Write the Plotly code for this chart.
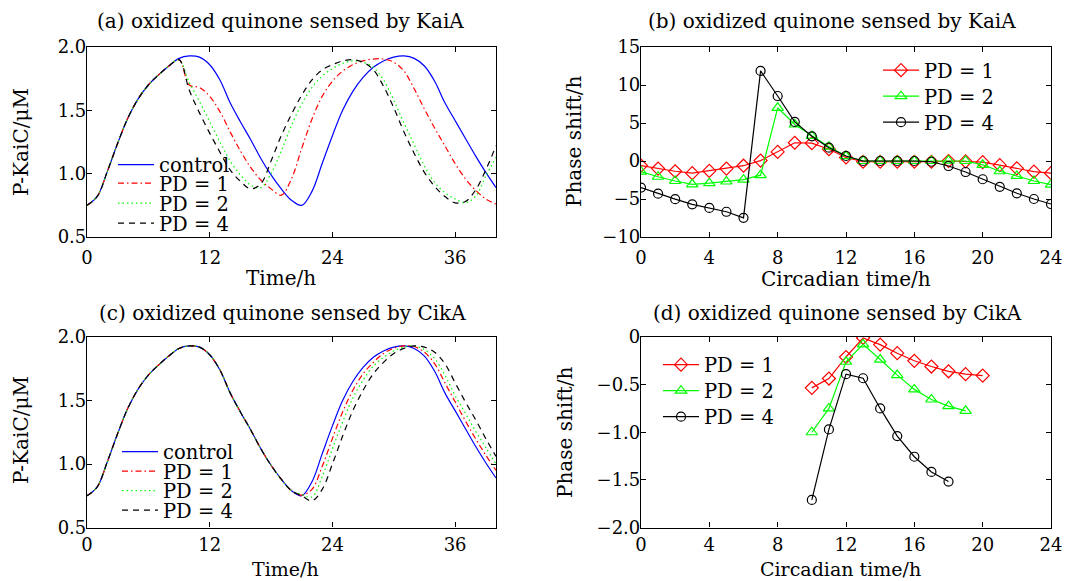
import plotly.graph_objects as go

# The page body adds an 8 px margin, so the figure is 8 px smaller and
# all pixel positions below are given in window coordinates.
WIN_W, WIN_H = 1078, 581
OFF = 8
W, H = WIN_W - OFF, WIN_H - OFF
FONT = "DejaVu Serif"

# ---------------- data ----------------
time_h = list(range(0, 41))

control = [0.75, 0.82, 1.02, 1.24, 1.44, 1.59, 1.70, 1.78, 1.85, 1.91,
           1.93, 1.92, 1.86, 1.74, 1.56, 1.41, 1.27, 1.12, 0.99, 0.88,
           0.79, 0.75, 0.86, 1.08, 1.30, 1.50, 1.65, 1.76, 1.84, 1.89,
           1.92, 1.93, 1.91, 1.85, 1.73, 1.56, 1.42, 1.28, 1.14, 1.01, 0.89]

# panel (a): oxidized quinone sensed by KaiA
a_pd1 = [0.75, 0.82, 1.02, 1.24, 1.44, 1.59, 1.70, 1.78, 1.85, 1.90,
         1.70, 1.68, 1.61, 1.49, 1.33, 1.18, 1.05, 0.95, 0.88, 0.83,
         0.96, 1.20, 1.43, 1.61, 1.73, 1.81, 1.86, 1.89, 1.905, 1.905,
         1.88, 1.81, 1.67, 1.51, 1.36, 1.22, 1.08, 0.96, 0.87, 0.80, 0.76]
a_pd2 = [0.75, 0.82, 1.02, 1.24, 1.44, 1.59, 1.70, 1.78, 1.85, 1.90,
         1.72, 1.57, 1.41, 1.25, 1.10, 0.99, 0.91, 0.89, 1.00, 1.18,
         1.38, 1.55, 1.68, 1.77, 1.83, 1.87, 1.89, 1.88, 1.84, 1.74,
         1.58, 1.40, 1.23, 1.06, 0.93, 0.85, 0.80, 0.77, 0.82, 0.98, 1.13]
a_pd4 = [0.75, 0.82, 1.02, 1.24, 1.44, 1.59, 1.70, 1.78, 1.85, 1.90,
         1.66, 1.48, 1.32, 1.17, 1.03, 0.94, 0.88, 0.92, 1.10, 1.30,
         1.47, 1.62, 1.74, 1.82, 1.86, 1.89, 1.90, 1.88, 1.82, 1.69,
         1.52, 1.33, 1.16, 1.01, 0.90, 0.82, 0.77, 0.78, 0.87, 1.03, 1.22]

# panel (c): oxidized quinone sensed by CikA
c_pd1 = [0.75, 0.82, 1.02, 1.24, 1.44, 1.59, 1.70, 1.78, 1.85, 1.91,
         1.93, 1.92, 1.86, 1.74, 1.56, 1.41, 1.27, 1.12, 0.99, 0.88,
         0.79, 0.755, 0.80, 0.98, 1.20, 1.41, 1.58, 1.71, 1.80, 1.87,
         1.91, 1.93, 1.925, 1.88, 1.79, 1.64, 1.49, 1.34, 1.20, 1.07, 0.95]
c_pd2 = [0.75, 0.82, 1.02, 1.24, 1.44, 1.59, 1.70, 1.78, 1.85, 1.91,
         1.93, 1.92, 1.86, 1.74, 1.56, 1.41, 1.27, 1.12, 0.99, 0.88,
         0.79, 0.76, 0.74, 0.90, 1.12, 1.33, 1.52, 1.66, 1.77, 1.84,
         1.89, 1.92, 1.93, 1.90, 1.83, 1.70, 1.54, 1.40, 1.26, 1.13, 1.00]
c_pd4 = [0.75, 0.82, 1.02, 1.24, 1.44, 1.59, 1.70, 1.78, 1.85, 1.91,
         1.93, 1.92, 1.86, 1.74, 1.56, 1.41, 1.27, 1.12, 0.99, 0.88,
         0.79, 0.75, 0.71, 0.80, 1.00, 1.22, 1.42, 1.58, 1.71, 1.80,
         1.87, 1.91, 1.93, 1.92, 1.88, 1.79, 1.64, 1.49, 1.35, 1.20, 1.06]

# panel (b): phase shift, KaiA
ct_b = list(range(0, 25))
b_pd1 = [-0.6, -1.0, -1.35, -1.6, -1.3, -1.0, -0.62, 0.05, 1.2, 2.4,
         2.35, 1.55, 0.47, -0.1, -0.1, -0.1, -0.1, -0.1, 0.0, -0.05,
         -0.15, -0.55, -0.96, -1.4, -1.6]
b_pd2 = [-1.4, -2.07, -2.63, -3.07, -2.92, -2.7, -2.45, -1.86, 7.0, 4.8,
         3.3, 1.88, 0.65, 0.0, 0.0, 0.0, 0.0, 0.0, 0.05, 0.0,
         -0.5, -1.35, -1.97, -2.63, -3.1]
b_pd4 = [-3.5, -4.3, -5.02, -5.7, -6.17, -6.68, -7.48, 11.85, 8.55, 5.14,
         3.25, 1.75, 0.66, 0.0, 0.0, 0.0, 0.0, -0.1, -0.66, -1.45,
         -2.4, -3.4, -4.25, -5.0, -5.66]

# panel (d): phase shift, CikA
ct_d1 = list(range(10, 21))
d_pd1 = [-0.534, -0.436, -0.21, -0.01, -0.08, -0.17, -0.25, -0.31, -0.36, -0.39, -0.405]
ct_d2 = list(range(10, 20))
d_pd2 = [-1.0, -0.75, -0.26, -0.077, -0.237, -0.40, -0.55, -0.656, -0.726, -0.775]
ct_d4 = list(range(10, 19))
d_pd4 = [-1.71, -0.97, -0.39, -0.433, -0.75, -1.04, -1.257, -1.417, -1.518]

time_ticks = [0, 12, 24, 36]
ct_ticks = [0, 4, 8, 12, 16, 20, 24]
pk_ticks = [0.5, 1.0, 1.5, 2.0]
pk_ticktext = ["0.5", "1.0", "1.5", "2.0"]
b_ticks = [-10, -5, 0, 5, 10, 15]
b_ticktext = ["\u221210", "\u22125", "0", "5", "10", "15"]
d_ticks = [-2.0, -1.5, -1.0, -0.5, 0]
d_ticktext = ["\u22122.0", "\u22121.5", "\u22121.0", "\u22120.5", "0"]

series_names = ["control", "PD = 1", "PD = 2", "PD = 4"]

# ---------------- styles ----------------
BLUE, RED, GREEN, BLACK = "#0000ff", "#ff0000", "#00ff00", "#000000"
dash_styles = ["solid", "6px,3px,1.5px,3px", "1.5px,3px", "6px,5px"]
colors = [BLUE, RED, GREEN, BLACK]


def px_x(p):
    return (p - OFF) / W


def px_y(p):
    return 1 - (p - OFF) / H


fig = go.Figure()

legend_defs = {}
leg_counter = [1]


def new_legend(x_px, y_px):
    leg_counter[0] += 1
    key = "legend%d" % leg_counter[0]
    legend_defs[key] = dict(
        x=px_x(x_px), y=px_y(y_px), xanchor="left", yanchor="middle",
        bgcolor="rgba(0,0,0,0)", borderwidth=0,
        font=dict(family=FONT, size=19.5, color="black"),
        itemwidth=36, tracegroupgap=0,
    )
    return key


# panel (a)
a_rows = [165, 183.5, 203.5, 223.5]
for i, ys in enumerate([control, a_pd1, a_pd2, a_pd4]):
    fig.add_trace(go.Scatter(
        x=time_h, y=ys, mode="lines", name=series_names[i],
        line=dict(color=colors[i], width=1.2, dash=dash_styles[i], shape="spline"),
        xaxis="x", yaxis="y", legend=new_legend(113, a_rows[i]),
    ))

# panel (b)
sym = ["diamond-open", "triangle-up-open", "circle-open"]
msz = [10, 10, 9]
b_rows = [70.5, 96.5, 122.5]
for i, ys in enumerate([b_pd1, b_pd2, b_pd4]):
    fig.add_trace(go.Scatter(
        x=ct_b, y=ys, mode="lines+markers", name=series_names[i + 1],
        line=dict(color=colors[i + 1], width=1.2),
        marker=dict(symbol=sym[i], size=msz[i], color=colors[i + 1],
                    line=dict(width=1.2, color=colors[i + 1])),
        xaxis="x2", yaxis="y2", legend=new_legend(878, b_rows[i]),
    ))

# panel (c)
c_rows = [452, 471.5, 491, 510.5]
for i, ys in enumerate([control, c_pd1, c_pd2, c_pd4]):
    fig.add_trace(go.Scatter(
        x=time_h, y=ys, mode="lines", name=series_names[i],
        line=dict(color=colors[i], width=1.2, dash=dash_styles[i], shape="spline"),
        xaxis="x3", yaxis="y3", legend=new_legend(117, c_rows[i]),
    ))

# panel (d)
d_rows = [365, 391, 417]
d_x = [ct_d1, ct_d2, ct_d4]
for i, ys in enumerate([d_pd1, d_pd2, d_pd4]):
    fig.add_trace(go.Scatter(
        x=d_x[i], y=ys, mode="lines+markers", name=series_names[i + 1],
        line=dict(color=colors[i + 1], width=1.2),
        marker=dict(symbol=sym[i], size=msz[i], color=colors[i + 1],
                    line=dict(width=1.2, color=colors[i + 1])),
        xaxis="x4", yaxis="y4", legend=new_legend(658, d_rows[i]),
    ))

tickfont = dict(family=FONT, size=18, color="black")


def axis(domain, rng, tickvals, ticktext=None, anchor=None, standoff=0):
    d = dict(domain=domain, range=rng, tickvals=tickvals, ticks="inside",
             ticklen=5, tickwidth=1, tickcolor="black", mirror="ticks",
             showline=True, linecolor="black", linewidth=1.2,
             showgrid=False, zeroline=False, tickfont=tickfont,
             anchor=anchor, fixedrange=True, automargin=False,
             ticklabelstandoff=standoff)
    if ticktext is not None:
        d["ticktext"] = ticktext
    return d


xl = [px_x(87), px_x(496)]
xr = [px_x(641), px_x(1051)]
yt = [px_y(237), px_y(47)]
yb = [px_y(527.5), px_y(337)]

layout = dict(
    template="none",
    width=W, height=H, margin=dict(l=0, r=0, t=0, b=0, autoexpand=False),
    paper_bgcolor="white", plot_bgcolor="white",
    font=dict(family=FONT, color="black"),
    showlegend=True,
    xaxis=axis(xl, [0, 40], time_ticks, anchor="y", standoff=4),
    yaxis=axis(yt, [0.5, 2.0], pk_ticks, pk_ticktext, anchor="x", standoff=-4),
    xaxis2=axis(xr, [0, 24], ct_ticks, anchor="y2", standoff=4),
    yaxis2=axis(yt, [-10, 15], b_ticks, b_ticktext, anchor="x2", standoff=-4),
    xaxis3=axis(xl, [0, 40], time_ticks, anchor="y3", standoff=1),
    yaxis3=axis(yb, [0.5, 2.0], pk_ticks, pk_ticktext, anchor="x3", standoff=-4),
    xaxis4=axis(xr, [0, 24], ct_ticks, anchor="y4", standoff=1),
    yaxis4=axis(yb, [-2.0, 0], d_ticks, d_ticktext, anchor="x4", standoff=-4),
)
layout.update(legend_defs)
fig.update_layout(**layout)

ann_font = dict(family=FONT, size=20, color="black")
ann_font_small = dict(family=FONT, size=19, color="black")
texts = [
    ("(a) oxidized quinone sensed by KaiA", 280, 21, 0, ann_font),
    ("(b) oxidized quinone sensed by KaiA", 832, 21, 0, ann_font),
    ("(c) oxidized quinone sensed by CikA", 282, 313, 0, ann_font),
    ("(d) oxidized quinone sensed by CikA", 837, 313, 0, ann_font),
    ("Time/h", 281, 278, 0, ann_font),
    ("Time/h", 285, 569, 0, ann_font_small),
    ("Circadian time/h", 846, 279, 0, ann_font),
    ("Circadian time/h", 840, 569, 0, ann_font_small),
    ("P-KaiC/\u03bcM", 21, 142, -90, ann_font),
    ("P-KaiC/\u03bcM", 21, 430, -90, ann_font),
    ("Phase shift/h", 574, 142, -90, ann_font),
    ("Phase shift/h", 565, 433, -90, ann_font),
]
for txt, x, y, ang, fnt in texts:
    fig.add_annotation(text=txt, x=px_x(x), y=px_y(y), xref="paper", yref="paper",
                       xanchor="center", yanchor="middle", showarrow=False,
                       textangle=ang, font=fnt)

fig.write_html("out.html")
